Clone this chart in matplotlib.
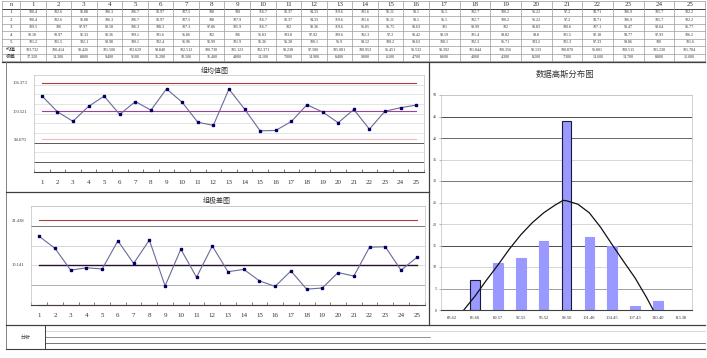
import matplotlib
matplotlib.use("Agg")
import matplotlib.pyplot as plt

plt.rcParams['font.family'] = ['Liberation Serif', 'Noto Sans CJK SC']

# ---- data ----
groups = list(range(1, 26))
row1 = [100.4, 102.6, 91.88, 106.3, 106.7, 91.97, 107.5, 108, 100, 116.7, 91.37, 94.33, 119.6,
        101.6, 91.11, 98.1, 95.5, 102.7, 100.2, 96.22, 97.2, 93.71, 106.9, 105.7, 102.2]
row2 = [100.4, 102.6, 91.88, 106.3, 106.7, 91.97, 107.5, 108, 107.9, 116.7, 91.37, 94.33, 119.6,
        101.6, 91.11, 98.1, 95.5, 102.7, 100.2, 96.22, 97.2, 93.71, 106.9, 105.7, 102.2]
row3 = [109.5, 106, 97.97, 98.58, 106.3, 108.3, 107.3, 97.86, 105.9, 116.7, 102, 98.36, 119.6,
        96.85, 95.75, 98.63, 101, 98.99, 102, 98.83, 100.6, 107.1, 98.47, 98.64, 95.77]
row4 = [90.18, 90.97, 91.33, 98.36, 109.1, 101.6, 96.86, 102, 106, 96.83, 103.8, 97.92, 109.6,
        102.3, 97.2, 98.42, 99.19, 101.4, 99.82, 99.8, 101.5, 92.18, 93.77, 97.93, 106.2]
row5 = [101.2, 101.5, 102.1, 98.98, 100.1, 102.4, 96.96, 91.99, 101.9, 91.36, 95.28, 100.1, 96.9,
        99.12, 100.2, 99.63, 100.1, 102.3, 96.71, 103.2, 101.3, 97.33, 99.86, 100, 101.6]
xbar = [103.732, 100.414, 98.426, 101.500, 103.629, 99.840, 102.512, 100.730, 105.123, 102.371,
        98.238, 97.580, 105.081, 100.953, 96.451, 96.532, 98.392, 101.844, 100.356, 98.133,
        100.870, 96.801, 100.515, 101.230, 101.784]
rng = [17.32, 14.30, 8.80, 9.40, 9.10, 16.20, 10.50, 16.40, 4.80, 14.10, 7.00, 14.90, 8.40,
       9.00, 6.10, 4.70, 8.60, 4.00, 4.30, 8.20, 7.30, 14.60, 14.70, 8.80, 12.00]
row_names = ["1", "2", "3", "4", "5", "均值", "极差"]

bin_labels = ["83.62", "86.60", "89.57", "92.55", "95.52", "98.50", "101.48",
              "104.45", "107.43", "110.40", "113.38"]
bin_counts = [0, 7, 11, 12, 16, 44, 17, 15, 1, 2, 0]
# normal curve (bin index, height)
curve_x = [0.5, 1.0, 1.5, 2.0, 2.5, 3.0, 3.5, 4.0, 4.5, 4.85, 5.0, 5.5, 6.0, 6.5, 7.0, 7.5, 8.0, 8.5, 8.8]
curve_y = [0, 3.3, 7.0, 10.5, 14.2, 17.5, 20.3, 22.6, 24.4, 25.5, 25.4, 24.6, 22.6, 19.2, 15.2,
           11.3, 7.5, 3.0, 0]

# control limits (n = 5)
cl_x = sum(xbar) / len(xbar)
cl_r = sum(rng) / len(rng)
ucl_x = cl_x + 0.577 * cl_r
lcl_x = cl_x - 0.577 * cl_r
ucl_r = 2.114 * cl_r
lcl_r = 0.0

W, H = 707, 358
fig = plt.figure(figsize=(W / 100, H / 100), dpi=100)


def rect(x0, y0, x1, y1):
    return [x0 / W, 1 - y1 / H, (x1 - x0) / W, (y1 - y0) / H]


txt = '#333333'

# ---- frame / table overlay ----
ov = fig.add_axes([0, 0, 1, 1])
ov.set_xlim(0, W)
ov.set_ylim(H, 0)
ov.axis('off')

col_edges = [2, 20] + [20 + 25.56 * k for k in range(1, 17)] + [429 + 30.67 * k for k in range(1, 10)]
row_edges = [1 + 7.5 * k for k in range(9)]
for y in row_edges:
    ov.plot([2, 705], [y, y], color='#9a9a9a', lw=0.5)
ov.plot([2, 705], [row_edges[1], row_edges[1]], color='#404040', lw=0.7)
for x in col_edges:
    ov.plot([x, x], [1, 61], color='#9a9a9a', lw=0.5)

cells = [row1, row2, row3, row4, row5]
ov.text(11, (row_edges[0] + row_edges[1]) / 2, "n", ha='center', va='center', fontsize=4.5, color=txt)
for j, g in enumerate(groups):
    cx = (col_edges[j + 1] + col_edges[j + 2]) / 2
    ov.text(cx, (row_edges[0] + row_edges[1]) / 2, str(g), ha='center', va='center',
            fontsize=5, color=txt)
for i, name in enumerate(row_names):
    cy = (row_edges[i + 1] + row_edges[i + 2]) / 2
    ov.text(11, cy, name, ha='center', va='center', fontsize=3.6, color=txt)
    for j in range(25):
        cx = (col_edges[j + 1] + col_edges[j + 2]) / 2
        if i < 5:
            s = '{:.4g}'.format(cells[i][j])
        elif i == 5:
            s = '{:.3f}'.format(xbar[j])
        else:
            s = '{:.3f}'.format(rng[j])
        ov.text(cx, cy, s, ha='center', va='center', fontsize=3, color=txt)

# panel borders
dark = '#404040'
ov.plot([2, 705], [62, 62], color=dark, lw=0.9)
ov.plot([6, 6], [62, 349], color='#808080', lw=0.7)
ov.plot([6, 429], [192, 192], color=dark, lw=0.9)
ov.plot([429, 429], [62, 325], color=dark, lw=0.9)
ov.plot([6, 705], [325, 325], color=dark, lw=0.9)
ov.plot([45, 705], [331, 331], color='#c8c8c8', lw=0.5)
ov.plot([45, 430], [337, 337], color='#808080', lw=0.6)
ov.plot([45, 705], [343, 343], color='#606060', lw=0.6)
ov.plot([6, 705], [349, 349], color=dark, lw=0.8)
ov.plot([45, 45], [325, 349], color=dark, lw=0.7)
ov.text(26, 337.5, "分析", ha='center', va='center', fontsize=3.6, color=txt)

fig.text(215 / W, 1 - 70 / H, "组均值图", ha='center', va='center', fontsize=5, color=txt)
fig.text(217 / W, 1 - 200 / H, "组极差图", ha='center', va='center', fontsize=5, color=txt)
fig.text(565 / W, 1 - 75 / H, "数据高斯分布图", ha='center', va='center', fontsize=6, color=txt)


def style_axes(ax):
    for s in ['top', 'right', 'left']:
        ax.spines[s].set_color('#c0c0c0')
        ax.spines[s].set_linewidth(0.5)
    ax.spines['bottom'].set_color('#404040')
    ax.spines['bottom'].set_linewidth(0.8)


# ---- X-bar chart ----
ax1 = fig.add_axes(rect(33.9, 75, 424, 171.7))
ax1.set_xlim(0.5, 25.5)
ax1.set_ylim(88, 108)
for lv in range(90, 108, 2):
    c = '#404040' if lv in (90, 94) else '#d9d9d9'
    ax1.axhline(lv, color=c, lw=0.6 if lv in (90, 94) else 0.5, zorder=1)
ax1.plot(groups, [ucl_x] * 25, color='#b23b3b', lw=0.8, zorder=2)
ax1.plot(groups, [cl_x] * 25, color='#a0409a', lw=0.8, zorder=2)
ax1.plot(groups, [lcl_x] * 25, color='#f2b8c0', lw=0.8, zorder=2)
ax1.plot(groups, xbar, color='#6a6a98', lw=0.8, marker='s', ms=1.6,
         mfc='#000066', mec='#000066', zorder=3)
ax1.set_xticks(groups)
ax1.set_xticks([g + 0.5 for g in range(0, 26)], minor=True)
ax1.tick_params(axis='x', which='major', length=0, labelsize=5, pad=6, labelcolor=txt)
ax1.tick_params(axis='x', which='minor', length=2, direction='in', color='#404040', width=0.5)
ax1.set_yticks([lcl_x, cl_x, ucl_x])
ax1.set_yticklabels(['{:.3f}'.format(v) for v in [lcl_x, cl_x, ucl_x]])
ax1.tick_params(axis='y', length=0, labelsize=3.3, pad=5, labelcolor=txt)
style_axes(ax1)

# ---- R chart ----
ax2 = fig.add_axes(rect(31.4, 206, 424.6, 305))
ax2.set_xlim(0.5, 25.5)
ax2.set_ylim(0, 25)
grid_r = {5: '#909090', 10: '#d0d0d0', 15: '#c8c8c8', 20: '#404040', 25: '#d0d0d0'}
for lv, c in grid_r.items():
    ax2.axhline(lv, color=c, lw=0.5, zorder=1)
ax2.plot(groups, [ucl_r] * 25, color='#b23b3b', lw=0.8, zorder=2)
ax2.plot(groups, [cl_r] * 25, color='#2a1030', lw=1.0, zorder=2)
ax2.plot(groups, [lcl_r] * 25, color='#f2b8c0', lw=1.0, zorder=2, clip_on=False)
ax2.plot(groups, rng, color='#6a6a98', lw=0.8, marker='s', ms=1.6,
         mfc='#000066', mec='#000066', zorder=3)
ax2.set_xticks(groups)
ax2.set_xticks([g + 0.5 for g in range(0, 26)], minor=True)
ax2.tick_params(axis='x', which='major', length=0, labelsize=5, pad=6, labelcolor=txt)
ax2.tick_params(axis='x', which='minor', length=2, direction='in', color='#404040', width=0.5)
ax2.set_yticks([cl_r, ucl_r])
ax2.set_yticklabels(['{:.3f}'.format(v) for v in [cl_r, ucl_r]])
ax2.tick_params(axis='y', length=0, labelsize=3.3, pad=5, labelcolor=txt)
style_axes(ax2)

# ---- histogram ----
ax3 = fig.add_axes(rect(441, 95, 692, 310))
ax3.set_xlim(-0.5, 10.5)
ax3.set_ylim(0, 50)
grid_h = {5: '#909090', 10: '#d0d0d0', 15: '#303030', 20: '#d0d0d0', 25: '#d0d0d0',
          30: '#606060', 35: '#d0d0d0', 40: '#505050', 45: '#303030', 50: '#d0d0d0'}
for lv, c in grid_h.items():
    ax3.axhline(lv, color=c, lw=0.6, zorder=1)
pos = list(range(len(bin_labels)))
edges = ['#1a1a40' if k in (1, 5) else '#9999ff' for k in pos]
ax3.bar(pos, bin_counts, width=0.42, color='#9999ff', edgecolor=edges, linewidth=0.8, zorder=2)
ax3.plot(curve_x, curve_y, color='#111111', lw=0.9, zorder=3)
ax3.set_xticks(pos)
ax3.set_xticklabels(bin_labels)
ax3.tick_params(axis='x', length=0, labelsize=3.3, pad=4, labelcolor=txt)
ax3.set_yticks(range(0, 55, 5))
ax3.tick_params(axis='y', length=1.5, width=0.4, labelsize=3, pad=1.5, labelcolor=txt, color='#808080')
style_axes(ax3)

fig.savefig("out.png", dpi=100)
